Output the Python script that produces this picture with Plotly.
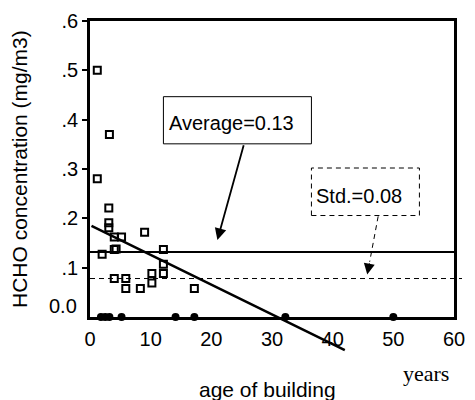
import plotly.graph_objects as go

# ---- data ----
age_years = [1.2, 3.2, 1.2, 3.1, 3.1, 3.1, 4.0, 5.2, 4.0, 4.3, 2.0, 9.0,
             12.1, 12.1, 12.1, 10.2, 10.2, 4.0, 5.9, 5.9, 8.3, 17.2]
hcho_mg_m3 = [0.50, 0.37, 0.28, 0.221, 0.191, 0.181, 0.162, 0.162, 0.137, 0.138,
              0.127, 0.172, 0.137, 0.107, 0.088, 0.088, 0.069, 0.078, 0.078,
              0.058, 0.058, 0.058]
zero_age_years = [1.8, 2.5, 3.2, 5.2, 14.1, 17.2, 32.2, 50.0]
zero_hcho = [0, 0, 0, 0, 0, 0, 0, 0]
average_value = 0.132
std_value = 0.078
regression_x = [0, 42]
regression_y = [0.186, -0.067]
x_tick_vals = [0, 10, 20, 30, 40, 50, 60]
y_tick_vals = [0.1, 0.2, 0.3, 0.4, 0.5, 0.6]
y_tick_text = [".1", ".2", ".3", ".4", ".5", ".6"]

SANS = "Liberation Sans, Arial, sans-serif"
SERIF = "Liberation Serif, Times New Roman, serif"

fig = go.Figure()
fig.add_trace(go.Scatter(
    x=age_years, y=hcho_mg_m3, mode="markers",
    marker=dict(symbol="square-open", size=7, color="black", line=dict(width=2, color="black")),
    hoverinfo="skip", showlegend=False))
fig.add_trace(go.Scatter(
    x=zero_age_years, y=zero_hcho, mode="markers", cliponaxis=False,
    marker=dict(symbol="circle", size=8, color="black"),
    hoverinfo="skip", showlegend=False))

shapes = [
    dict(type="line", xref="x", yref="y", x0=0, x1=60, y0=average_value, y1=average_value,
         line=dict(color="black", width=2)),
    dict(type="line", xref="paper", yref="y", x0=0, x1=1.022, y0=std_value, y1=std_value,
         line=dict(color="black", width=1, dash="5px,4px")),
    dict(type="rect", xref="x", yref="y", x0=12.1, x1=36.5, y0=0.351, y1=0.4466,
         line=dict(color="black", width=1), fillcolor="white"),
    dict(type="rect", xref="x", yref="y", x0=36.5, x1=54.3, y0=0.2057, y1=0.302,
         line=dict(color="black", width=1, dash="5px,4px"), fillcolor="white"),
    dict(type="line", xref="x", yref="y", x0=47.5, x1=46.1, y0=0.204, y1=0.112,
         line=dict(color="black", width=1, dash="5px,4px")),
]

annotations = [
    # regression line (annotation arrows are not clipped by the plot area)
    dict(x=regression_x[1], y=regression_y[1], ax=regression_x[0], ay=regression_y[0],
         xref="x", yref="y", axref="x", ayref="y", text="", showarrow=True,
         arrowhead=0, arrowwidth=2.5, arrowcolor="black", standoff=0, startstandoff=0),
    dict(x=23.4, y=0.393, xref="x", yref="y", text="Average=0.13", showarrow=False,
         font=dict(family=SANS, size=20, color="black")),
    dict(x=21.0, y=0.156, ax=25.4, ay=0.351, xref="x", yref="y", axref="x", ayref="y",
         text="", showarrow=True, arrowhead=2, arrowsize=1.3, arrowwidth=1.8, arrowcolor="black"),
    dict(x=44.4, y=0.246, xref="x", yref="y", text="Std.=0.08", showarrow=False,
         font=dict(family=SANS, size=20, color="black")),
    dict(x=45.7, y=0.086, ax=46.1, ay=0.112, xref="x", yref="y", axref="x", ayref="y",
         text="", showarrow=True, arrowhead=2, arrowsize=2.2, arrowwidth=1, arrowcolor="black"),
    dict(x=0, y=0, xref="x", yref="y", xanchor="right", yanchor="middle", xshift=-11, yshift=10.6,
         text="0.0", showarrow=False, font=dict(family=SANS, size=20, color="black")),
    dict(x=0, y=0.5, xref="paper", yref="paper", xanchor="center", yanchor="middle", xshift=-71,
         text="HCHO concentration (mg/m3)", textangle=-90, showarrow=False,
         font=dict(family=SANS, size=21, color="black")),
    dict(x=0.489, y=0, xref="paper", yref="paper", xanchor="center", yanchor="middle", yshift=-72,
         text="age of building", showarrow=False, font=dict(family=SANS, size=21, color="black")),
    dict(x=0.9236, y=0, xref="paper", yref="paper", xanchor="center", yanchor="middle", yshift=-56,
         text="years", showarrow=False, font=dict(family=SERIF, size=22, color="black")),
]

fig.update_layout(
    width=475, height=400,
    margin=dict(l=90, r=10, t=21, b=83),
    paper_bgcolor="white", plot_bgcolor="white",
    shapes=shapes, annotations=annotations,
    xaxis=dict(range=[0, 60], tickvals=x_tick_vals, showgrid=False, zeroline=False,
               showline=True, linecolor="black", linewidth=2.5, mirror=True,
               ticks="outside", ticklen=2, tickcolor="rgba(0,0,0,0)",
               tickfont=dict(family=SANS, size=20, color="black")),
    yaxis=dict(range=[0, 0.6], tickvals=y_tick_vals, ticktext=y_tick_text, showgrid=False,
               zeroline=False, showline=True, linecolor="black", linewidth=2.5, mirror=True,
               ticks="outside", ticklen=5, tickwidth=1.5, tickcolor="black",
               tickfont=dict(family=SANS, size=20, color="black")),
)

fig.write_html("out.html", config={"displayModeBar": False},
               post_script="document.body.style.margin='0';")
